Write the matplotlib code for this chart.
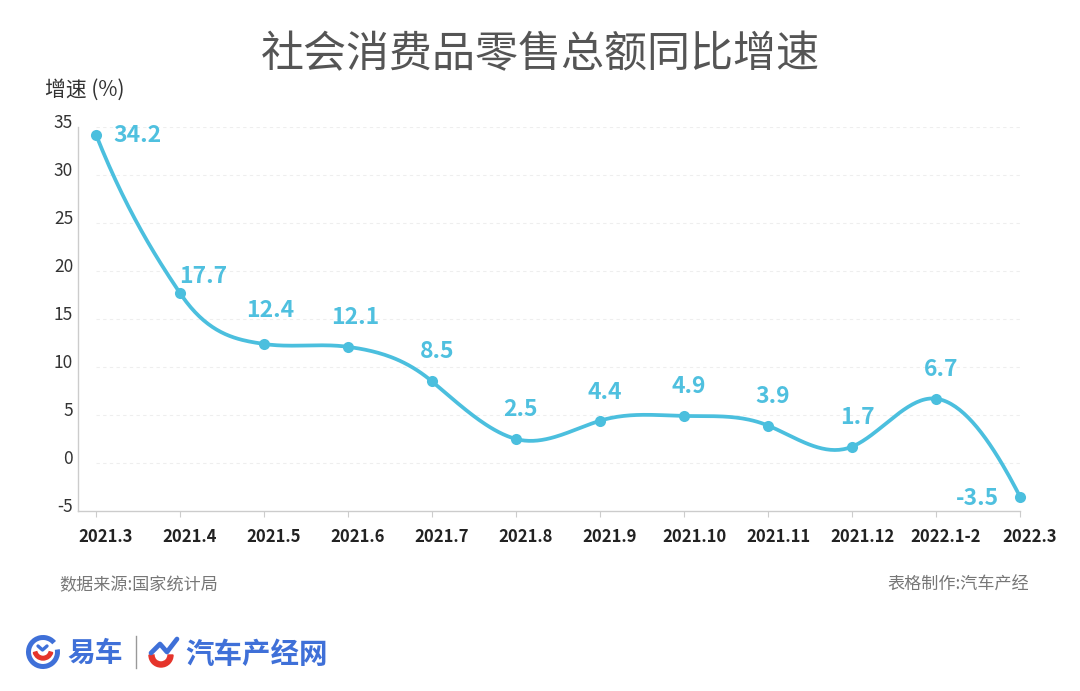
#!/usr/bin/env python3
import numpy as np
import matplotlib
matplotlib.use('Agg')
import matplotlib.pyplot as plt
from matplotlib.patches import Arc, Wedge
from matplotlib.transforms import ScaledTranslation

plt.rcParams['font.family'] = ['Noto Sans CJK SC', 'DejaVu Sans']
plt.rcParams['axes.unicode_minus'] = False

months = ['2021.3', '2021.4', '2021.5', '2021.6', '2021.7', '2021.8', '2021.9',
          '2021.10', '2021.11', '2021.12', '2022.1-2', '2022.3']
growth = [34.2, 17.7, 12.4, 12.1, 8.5, 2.5, 4.4, 4.9, 3.9, 1.7, 6.7, -3.5]
yticks = [-5, 0, 5, 10, 15, 20, 25, 30, 35]

# label centre relative to its point, in pixels
label_offsets = [(41, -1), (23, 17), (6, 33), (7, 29), (5, 30), (4, 30),
                 (5, 28), (5, 29), (5, 29), (5, 29), (5, 29), (-43, -2)]

LINE = '#4bbfde'
LABEL = '#4fc0df'
BLUE = '#3f70d8'
RED = '#e5342b'
W, H = 1080, 691


def smooth_line(x, y, tension=1.15, per_seg=40):
    # hermite curve through the points, slopes from a natural spline
    n = len(x)
    A = np.zeros((n, n))
    b = np.zeros(n)
    A[0, 0] = A[-1, -1] = 1
    for i in range(1, n - 1):
        A[i, i - 1:i + 2] = [1, 4, 1]
        b[i] = 6 * (y[i + 1] - 2 * y[i] + y[i - 1])
    m = np.linalg.solve(A, b)
    slope = np.zeros(n)
    slope[:-1] = np.diff(y) - (2 * m[:-1] + m[1:]) / 6
    slope[-1] = y[-1] - y[-2] + (m[-2] + 2 * m[-1]) / 6
    slope *= tension
    xs, ys = [], []
    for i in range(n - 1):
        t = np.linspace(0, 1, per_seg)
        xs.append(x[i] + t)
        ys.append((2 * t**3 - 3 * t**2 + 1) * y[i] + (t**3 - 2 * t**2 + t) * slope[i]
                  + (-2 * t**3 + 3 * t**2) * y[i + 1] + (t**3 - t**2) * slope[i + 1])
    return np.concatenate(xs), np.concatenate(ys)


def draw_logo(fig):
    la = fig.add_axes([0, 0, 1, 1], zorder=5)
    la.set_xlim(0, W)
    la.set_ylim(H, 0)
    la.axis('off')

    # yiche mark
    la.add_patch(Arc((43, 652), 29, 29, theta1=-10, theta2=320, lw=3.6, color=BLUE))
    la.add_patch(Wedge((43, 650), 10, 15, 165, width=3.6, color=RED))
    la.plot([38, 42.5, 47], [646, 650, 646], color=BLUE, lw=2.4, solid_capstyle='round')
    la.text(95, 654, '易车', color=BLUE, fontsize=20, fontweight='bold', ha='center', va='center')
    la.plot([135.5, 135.5], [636, 668], color='#999999', lw=1)

    # qichechanjing mark
    la.add_patch(Wedge((161, 655), 12, 0, 180, width=5, color=RED))
    la.plot([151, 160, 167, 177], [653, 644, 652, 639], color=BLUE, lw=3.4,
            solid_capstyle='round', solid_joinstyle='round')
    la.text(256.5, 655, '汽车产经网', color=BLUE, fontsize=20.5, fontweight='bold',
            ha='center', va='center')


fig = plt.figure(figsize=(W / 100, H / 100), dpi=100)
ax = fig.add_axes([78 / W, 1 - 511 / H, (1020 - 78) / W, (511 - 127) / H])

x = np.arange(len(months))
ax.set_xlim(-18 / 84, 11)
ax.set_ylim(-5, 35)

sx, sy = smooth_line(x, growth)
ax.plot(sx, sy, color=LINE, lw=2.7, clip_on=False, zorder=3)
ax.plot(x, growth, 'o', color=LINE, ms=8, mew=0, clip_on=False, zorder=4)

for xi, v, off in zip(x, growth, label_offsets):
    ax.annotate(f'{v}', (xi, v), xytext=(off[0] * 0.72, off[1] * 0.72),
                textcoords='offset points', ha='center', va='center',
                color=LABEL, fontsize=16.5, fontweight='bold', zorder=5)

for s in ['top', 'right']:
    ax.spines[s].set_visible(False)
for s in ['left', 'bottom']:
    ax.spines[s].set_color('#cccccc')
    ax.spines[s].set_linewidth(1)

ax.set_yticks(yticks)
ax.set_xticks(x)
ax.set_xticklabels(months)
ax.tick_params(axis='y', length=0, pad=3.5, labelsize=12.5, labelcolor='#333333')
ax.tick_params(axis='x', length=4, width=0.8, color='#cccccc', pad=8,
               labelsize=12, labelcolor='#222222')
for lab in ax.get_xticklabels():
    lab.set_fontweight('bold')
    lab.set_transform(lab.get_transform() + ScaledTranslation(10 / 100, 0, fig.dpi_scale_trans))
for lab in ax.get_yticklabels():
    lab.set_transform(lab.get_transform() + ScaledTranslation(0, 6 / 100, fig.dpi_scale_trans))

for v in yticks[1:]:
    ax.plot([0, 11], [v, v], color='#eeeeee', lw=0.8, ls=(0, (3, 3)), zorder=1)

fig.text(540 / W, 1 - 55 / H, '社会消费品零售总额同比增速', ha='center', va='center',
         fontsize=31, color='#555555')
fig.text(45 / W, 1 - 90 / H, '增速 (%)', ha='left', va='center', fontsize=15, color='#333333')
fig.text(59 / W, 1 - 585 / H, '数据来源:国家统计局', ha='left', va='center',
         fontsize=12.3, color='#777777')
fig.text(1029 / W, 1 - 585 / H, '表格制作:汽车产经', ha='right', va='center',
         fontsize=12.3, color='#777777')

draw_logo(fig)

fig.savefig('out.png', dpi=100, facecolor='white')
